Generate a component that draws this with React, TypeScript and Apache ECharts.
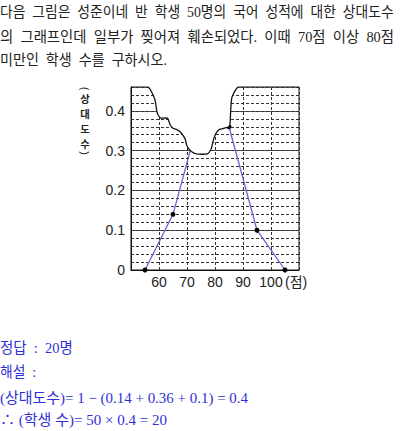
import React, { useEffect, useRef } from "react";
import * as echarts from "echarts";

// ---- data ----
const scores = [55, 65, 75, 85, 95, 105];
const relFreq = [0, 0.14, 0.4, 0.36, 0.1, 0];
const xTickLabels = [60, 70, 80, 90, 100];
const yTickLabels = [0, 0.1, 0.2, 0.3, 0.4];
const yNameChars = ["상", "대", "도", "수"];

const EN = "\u2002";
const problemLines = [
  "다음 그림은 성준이네 반 학생 50명의 국어 성적에 대한 상대도수",
  "의 그래프인데 일부가 찢어져 훼손되었다. 이때 70점 이상 80점",
  "미만인 학생 수를 구하시오.",
].map((s) => s.split(" ").join(EN));
const answerLines = [
  "정답" + EN + ":" + EN + "20명",
  "해설" + EN + ":",
  "(상대도수)= 1 − (0.14 + 0.36 + 0.1) = 0.4",
  "∴ (학생 수)= 50 × 0.4 = 20",
];

// torn edge outline in data space (score, relative frequency)
const tearX = [55.96, 56.43, 57.39, 58.57, 59.18, 59.75, 60.71, 62.75, 63.32, 63.93, 64.89, 66.32, 67.86, 69.29, 69.89, 71.07, 72.86, 75, 77.14, 78.04, 78.82, 79.75, 81.18, 83.57, 84.75, 85.36, 85.61, 85.96, 86.89, 88.11];
const tearY = [0.46, 0.458, 0.447, 0.427, 0.401, 0.389, 0.382, 0.382, 0.378, 0.366, 0.357, 0.353, 0.345, 0.33, 0.314, 0.301, 0.293, 0.291, 0.292, 0.297, 0.309, 0.334, 0.351, 0.357, 0.36, 0.368, 0.401, 0.431, 0.447, 0.46];

function densify(pts: number[][], n = 6): number[][] {
  const out: number[][] = [];
  for (let i = 0; i < pts.length - 1; i++) {
    const p0 = pts[Math.max(i - 1, 0)];
    const p1 = pts[i];
    const p2 = pts[i + 1];
    const p3 = pts[Math.min(i + 2, pts.length - 1)];
    for (let k = 0; k < n; k++) {
      const t = k / n;
      const t2 = t * t;
      const t3 = t2 * t;
      const c = (a: number, b: number, cc: number, d: number) =>
        0.5 * (2 * b + (-a + cc) * t + (2 * a - 5 * b + 4 * cc - d) * t2 + (-a + 3 * b - 3 * cc + d) * t3);
      out.push([c(p0[0], p1[0], p2[0], p3[0]), c(p0[1], p1[1], p2[1], p3[1])]);
    }
  }
  out.push(pts[pts.length - 1]);
  return out;
}

const BODY_FONT = '"Liberation Serif", "Noto Sans CJK KR", serif';
const AXIS_FONT = '"Liberation Sans", "Noto Sans CJK KR", sans-serif';

let measureCtx: CanvasRenderingContext2D | null = null;
function measure(text: string, size: number, family: string): number {
  if (!measureCtx) measureCtx = document.createElement("canvas").getContext("2d");
  if (!measureCtx) return 0;
  measureCtx.font = `${size}px ${family}`;
  return measureCtx.measureText(text).width;
}

export default function App() {
  const ref = useRef<HTMLDivElement>(null);
  useEffect(() => {
    if (!ref.current) return;
    const chart = echarts.init(ref.current, undefined, { renderer: "svg" });
    const dash = [3, 2];
    chart.setOption({
      animation: false,
      grid: {
        left: 131,
        top: 87,
        width: 168,
        height: 183,
        show: true,
        borderColor: "#111",
        borderWidth: 1,
        backgroundColor: "transparent",
      },
      xAxis: {
        type: "value",
        min: 50,
        max: 110,
        interval: 10,
        axisLine: { show: true, lineStyle: { color: "#111", width: 1 } },
        axisTick: { show: false },
        axisLabel: {
          margin: 5,
          fontSize: 14,
          color: "#222",
          fontFamily: AXIS_FONT,
          formatter: (v: number) => (xTickLabels.includes(Math.round(v)) ? String(Math.round(v)) : ""),
        },
        splitLine: { show: true, lineStyle: { color: "#333", width: 1, type: dash } },
      },
      yAxis: [
        {
          type: "value",
          min: 0,
          max: 0.46,
          interval: 0.1,
          axisLine: { show: true, lineStyle: { color: "#111", width: 1 } },
          axisTick: { show: false },
          axisLabel: {
            margin: 6,
            fontSize: 14,
            color: "#222",
            fontFamily: AXIS_FONT,
            formatter: (v: number) => {
              const r = Math.round(v * 100) / 100;
              return yTickLabels.includes(r) ? String(r) : "";
            },
          },
          splitLine: { show: true, lineStyle: { color: "#555", width: 1 } },
        },
        {
          type: "value",
          min: 0,
          max: 0.46,
          interval: 0.02,
          position: "left",
          axisLine: { show: false },
          axisTick: { show: false },
          axisLabel: { show: false },
          splitLine: { show: true, lineStyle: { color: "#333", width: 1, type: dash } },
        },
      ],
      series: [
        {
          type: "line",
          data: scores.map((s, i) => [s, relFreq[i]]),
          xAxisIndex: 0,
          yAxisIndex: 0,
          symbol: "circle",
          symbolSize: 5,
          itemStyle: { color: "#000" },
          lineStyle: { color: "#6b62d4", width: 1.3 },
          z: 5,
        },
      ],
    });

    const outline = densify(
      tearX.map((x, i) => chart.convertToPixel({ seriesIndex: 0 }, [x, tearY[i]]) as number[]),
      6
    );
    const first = outline[0];
    const last = outline[outline.length - 1];
    const poly = [...outline, [last[0], 80], [first[0], 80]];

    const graphics: any[] = [
      { type: "polygon", z: 100, shape: { points: poly }, style: { fill: "#fff", stroke: "none" }, silent: true },
      { type: "polyline", z: 101, shape: { points: outline }, style: { stroke: "#111", lineWidth: 1.3, fill: "none" }, silent: true },
    ];

    const fitText = (t: string, x: number, y: number, size: number, target: number, fill: string) => {
      const w = measure(t, size, BODY_FONT);
      const sx = w > 0 ? Math.max(0.85, Math.min(1.15, target / w)) : 1;
      graphics.push({
        type: "text",
        z: 200,
        x,
        y,
        scaleX: sx,
        style: { text: t, fill, fontSize: size, fontFamily: BODY_FONT, align: "left", verticalAlign: "middle" },
      });
    };

    const problemY = [12, 36.5, 60];
    const problemW = [394, 394, 167];
    problemLines.forEach((t, i) => fitText(t, 0, problemY[i], 14.6, problemW[i], "#222"));

    // vertical y-axis name
    const vx = 85;
    graphics.push({
      type: "text", z: 200, x: vx, y: 88.5, rotation: -Math.PI / 2,
      style: { text: "(", fill: "#222", fontSize: 11, fontFamily: AXIS_FONT, align: "center", verticalAlign: "middle" },
    });
    yNameChars.forEach((c, i) => {
      graphics.push({
        type: "text", z: 200, x: vx, y: 98 + i * 15,
        style: {
          text: c, fill: "#222", fontSize: 10.3, fontWeight: "bold",
          fontFamily: '"Noto Sans CJK KR", sans-serif', align: "center", verticalAlign: "middle",
        },
      });
    });
    graphics.push({
      type: "text", z: 200, x: vx, y: 153, rotation: -Math.PI / 2,
      style: { text: ")", fill: "#222", fontSize: 11, fontFamily: AXIS_FONT, align: "center", verticalAlign: "middle" },
    });
    graphics.push({
      type: "text", z: 200, x: 285, y: 282,
      style: { text: "(점)", fill: "#222", fontSize: 14, fontFamily: AXIS_FONT, align: "left", verticalAlign: "middle" },
    });

    const answerY = [348, 372, 398, 420];
    const answerW = [73, 36, 248, 167];
    answerLines.forEach((t, i) => fitText(t, 0, answerY[i], 14.8, answerW[i], "#2f2fd6"));

    chart.setOption({ graphic: graphics });

    return () => chart.dispose();
  }, []);
  return (
    <div
      ref={ref}
      style={{ position: "absolute", left: 0, top: 0, width: 400, height: 431, background: "#fff" }}
    />
  );
}
